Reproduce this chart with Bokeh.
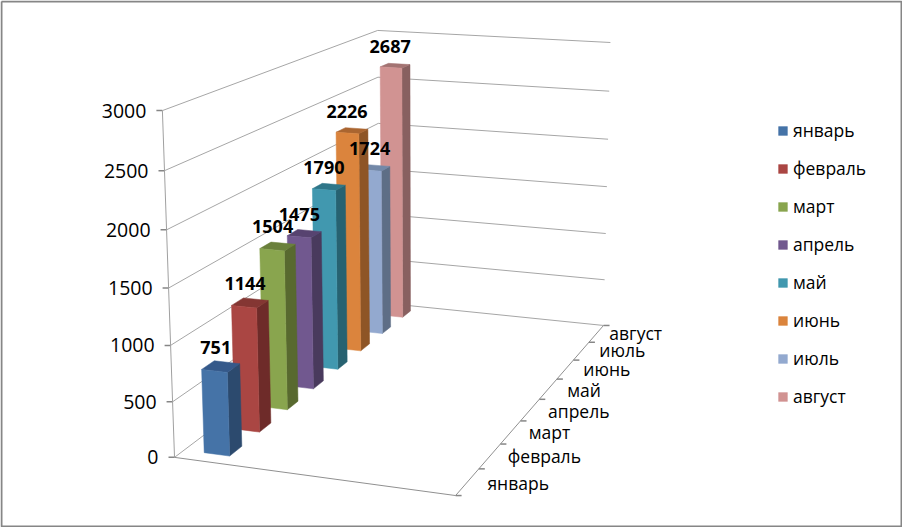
import numpy as np
from bokeh.core.properties import value
from bokeh.embed import file_html
from bokeh.models import Legend, LegendItem, Range1d
from bokeh.plotting import figure
from bokeh.resources import INLINE

months = ["январь", "февраль", "март", "апрель", "май", "июнь", "июль", "август"]
sales = [751, 1144, 1504, 1475, 1790, 2226, 1724, 2687]
face_colors = ["#4573A7", "#AA4643", "#89A54E", "#71588F", "#4198AF", "#DB843D", "#93A9CF", "#D19392"]
side_colors = ["#2C4A6E", "#6E2B29", "#58692F", "#493A5D", "#276271", "#8E5526", "#5E6E86", "#886060"]
top_colors = ["#35598A", "#843633", "#6A803B", "#574370", "#2F7689", "#AA6530", "#7288A8", "#A37372"]
value_ticks = [0, 500, 1000, 1500, 2000, 2500, 3000]
VMAX = 3000
FONT = "Open Sans"

# Camera: fitted from the corners of the chart box (x, value, depth) -> page pixel
box = [(0, 0, 0), (0, 1, 0), (0, 0, 1), (0, 1, 1), (1, 0, 1), (1, 1, 1), (1, 0, 0)]
page = [(174, 457), (162, 110), (379, 302), (377, 30), (603, 325), (610, 42), (455, 495)]
rows = []
for (X, Y, Z), (u, v) in zip(box, page):
    rows.append([X, Y, Z, 1, 0, 0, 0, 0, -u * X, -u * Y, -u * Z, -u])
    rows.append([0, 0, 0, 0, X, Y, Z, 1, -v * X, -v * Y, -v * Z, -v])
CAM = np.linalg.svd(np.array(rows, float))[2][-1].reshape(3, 4)


def proj(x, val, d):
    q = CAM @ np.array([x, val / VMAX, d, 1.0])
    return float(q[0] / q[2]), float(q[1] / q[2])


def poly(points):
    pts = [proj(*pt) for pt in points]
    return [a for a, _ in pts], [b for _, b in pts]


p = figure(width=902, height=527, output_backend="svg", toolbar_location=None,
           x_range=Range1d(0, 902), y_range=Range1d(527, 0), min_border=0)
p.axis.visible = False
p.grid.visible = False
p.outline_line_color = None
p.background_fill_color = "#FFFFFF"

GRID = "#A6A6A6"
TICK = "#868686"


def seg(a, b, color=GRID, width=1.0):
    p.line([a[0], b[0]], [a[1], b[1]], line_color=color, line_width=width)


# picture frame
p.line([1, 901, 901, 1, 1], [1, 1, 526, 526, 1], line_color="#868686", line_width=2)

# walls
for t in value_ticks:
    a, b, c = proj(0, t, 0), proj(0, t, 1), proj(1, t, 1)
    seg(a, b)
    seg(b, c)
    seg((a[0] - 6, a[1]), a, TICK, 1.5)
seg(proj(0, 0, 0), proj(0, VMAX, 0), "#A0A0A0")
seg(proj(0, 0, 0), proj(1, 0, 0), "#909090")
seg(proj(1, 0, 0), proj(1, 0, 1), "#909090")
for i in range(len(months) + 1):
    a = proj(1, 0, i / len(months))
    seg(a, (a[0] + 6, a[1]), TICK, 1.5)

for t in value_ticks:
    a = proj(0, t, 0)
    p.text([a[0] - 16], [a[1]], text=[str(t)], text_align="right", text_baseline="middle",
           text_font=value(FONT), text_font_size="19.5px", text_color="#000000")

label_dx = [20, 18, 18, 18, 19, 18, 18, 13]
label_dy = [1, 0, 0, 1, 1, 0, -1, -1]
for i, m in enumerate(months):
    a = proj(1, 0, (i + 0.5) / len(months))
    p.text([a[0] + label_dx[i]], [a[1] + label_dy[i]], text=[m], text_align="left", text_baseline="middle",
           text_font=value(FONT), text_font_size="17.5px", text_color="#000000")

# bars, back to front
X0, X1, GAP = 0.075, 0.17, 0.3
front_renderers = {}
for i in reversed(range(len(months))):
    v = sales[i]
    d0, d1 = (i + GAP) / len(months), (i + 1 - GAP) / len(months)
    sx, sy = poly([(X1, 0, d0), (X1, 0, d1), (X1, v, d1), (X1, v, d0)])
    p.patch(sx, sy, fill_color=side_colors[i], line_color=side_colors[i], line_width=0.5)
    tx, ty = poly([(X0, v, d0), (X1, v, d0), (X1, v, d1), (X0, v, d1)])
    p.patch(tx, ty, fill_color=top_colors[i], line_color=top_colors[i], line_width=0.5)
    fx, fy = poly([(X0, 0, d0), (X1, 0, d0), (X1, v, d0), (X0, v, d0)])
    front_renderers[i] = p.patch(fx, fy, fill_color=face_colors[i], line_color=face_colors[i], line_width=0.5)

for i, v in enumerate(sales):
    d = (i + 0.5) / len(months)
    a = proj((X0 + X1) / 2, v, d)
    p.text([a[0] - 5], [a[1] - 19.5], text=[str(v)], text_align="center", text_baseline="middle",
           text_font=value(FONT), text_font_size="18px", text_font_style="bold", text_color="#000000")

legend = Legend(items=[LegendItem(label=m, renderers=[front_renderers[i]]) for i, m in enumerate(months)],
                location=(777, 119), orientation="vertical", spacing=14, padding=0, margin=0,
                glyph_width=11, glyph_height=11, label_height=22, label_standoff=5,
                background_fill_alpha=0, border_line_alpha=0,
                label_text_font=FONT, label_text_font_size="17.5px", label_text_color="#000000")
p.add_layout(legend, "center")

open("out.html", "w").write(file_html(p, INLINE))
